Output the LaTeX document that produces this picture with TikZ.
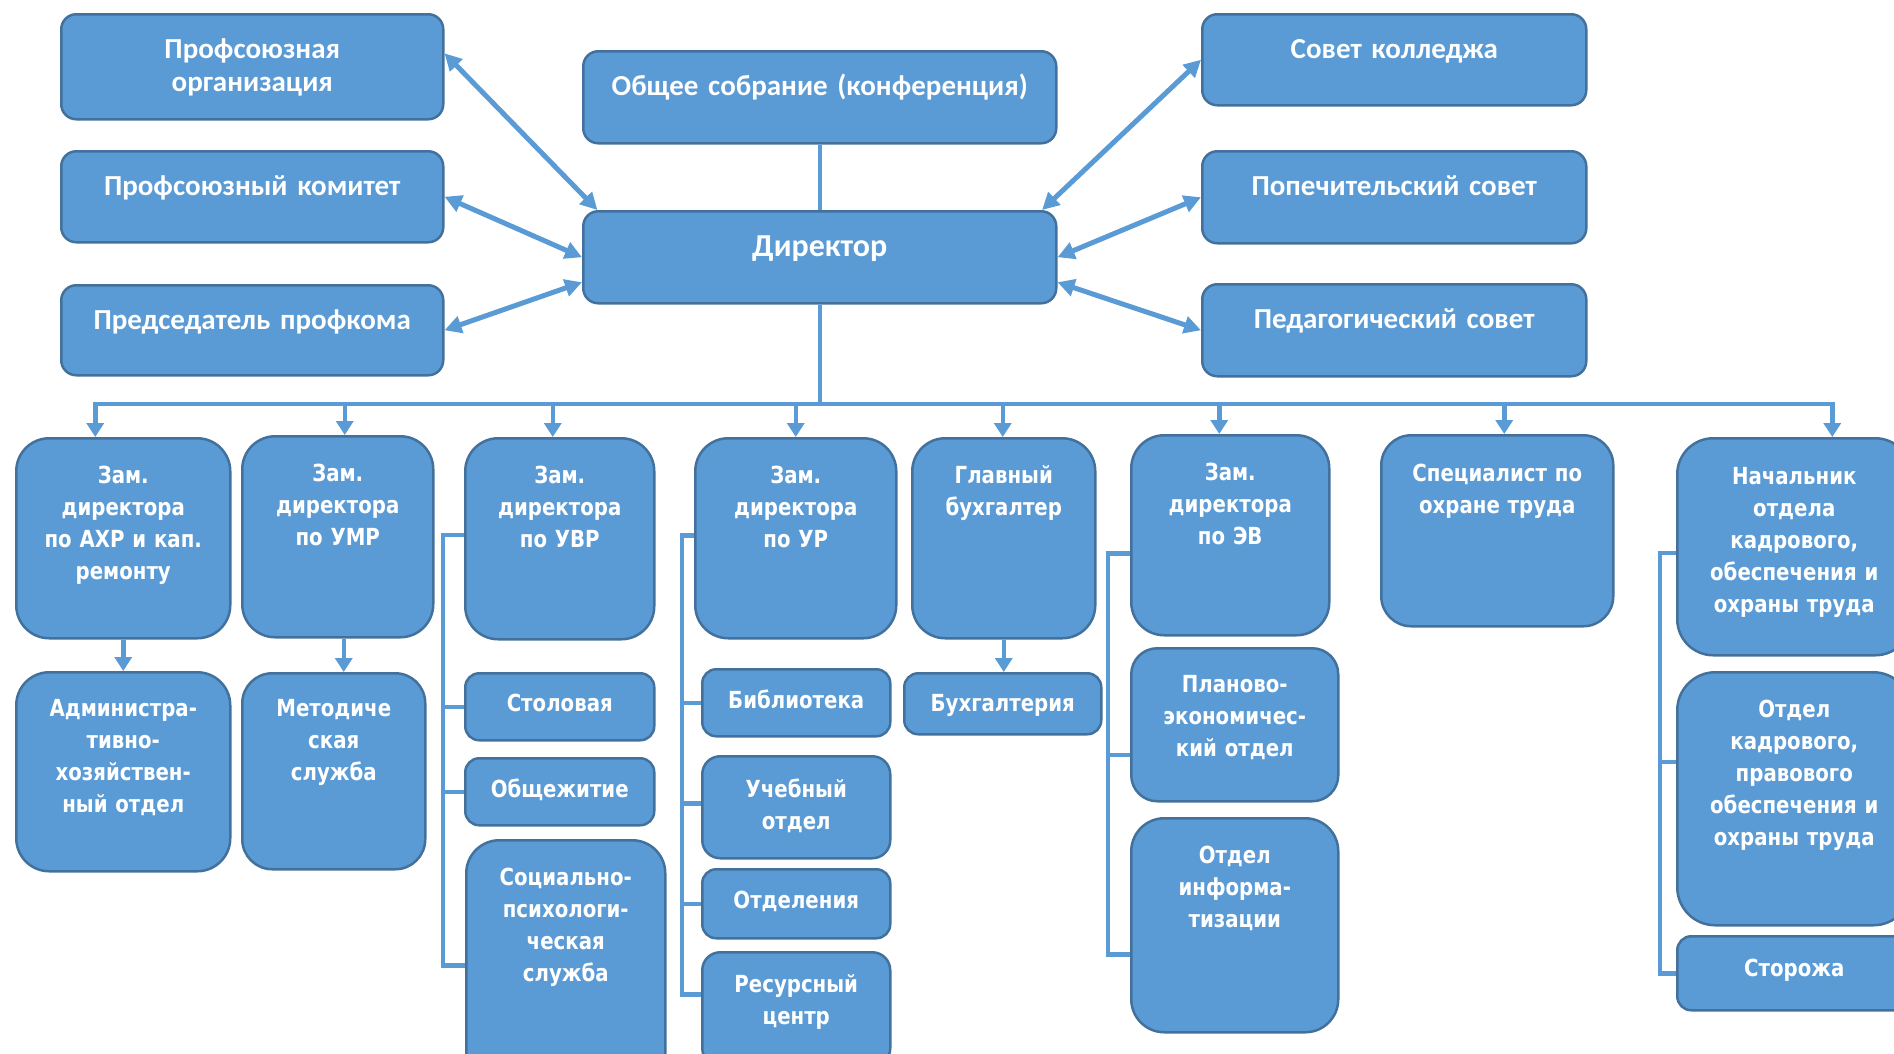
\documentclass[tikz,border=0pt]{standalone}
\usepackage{fontspec}
\usepackage{tikz}
\usetikzlibrary{arrows.meta}
\newfontfamily\calfont{Carlito}
\newfontfamily\tahfont{DejaVu Sans}[FakeStretch=0.84]
\definecolor{fillblue}{HTML}{5B9BD5}
\definecolor{edgeblue}{HTML}{41719C}
\newcommand{\block}[7]{\node[#1, text width=#4pt, text height=#5pt, text depth=#6pt] (#2) at (#3) {#7}}

\begin{document}
\begin{tikzpicture}[x=1pt,y=-1pt,
    box/.style={draw=edgeblue, fill=fillblue, line width=2.5pt, text=white, align=center, inner sep=0pt, anchor=north west},
    upper/.style={box, rounded corners=15pt, font=\calfont\bfseries\fontsize{29}{33.5}\selectfont},
    lower/.style={box, rounded corners=33pt, font=\tahfont\bfseries\fontsize{23.5}{32}\selectfont},
    flat/.style={lower, rounded corners=14pt},
    link/.style={draw=fillblue, line width=4.5pt},
    drop/.style={link, >={Triangle[length=14pt,width=17pt]}, ->},
    pair/.style={draw=fillblue, line width=5pt, >={Triangle[length=17pt,width=17pt]}, <->}]
    \useasboundingbox (0,0) rectangle (1894,1053);
    \clip (0,0) rectangle (1894,1053);

    \block{upper}{porg}{60,13}{382}{44}{61}{Профсоюзная\\организация};
    \block{upper}{pkom}{60,150}{382}{44}{47}{Профсоюзный комитет};
    \block{upper}{pred}{60,284}{382}{44}{46}{Председатель профкома};
    \block{upper}{sobr}{582,50}{473}{44}{48}{Общее собрание (конференция)};
    \block{upper, font=\calfont\bfseries\fontsize{32}{38}\selectfont}{dir}{582,210}{473}{45}{47}{Директор};
    \block{upper}{skol}{1201,13}{384}{44}{47}{Совет колледжа};
    \block{upper}{popech}{1201,150}{384}{44}{48}{Попечительский совет};
    \block{upper}{pedsov}{1201,283}{384}{44}{48}{Педагогический совет};

    \block{lower}{zahr}{15,437}{214}{45}{155}{Зам.\\директора\\по АХР и кап.\\ремонту};
    \block{lower}{zumr}{241,435}{191}{45}{156}{Зам.\\директора\\по УМР};
    \block{lower}{zuvr}{464,437}{189}{45}{156}{Зам.\\директора\\по УВР};
    \block{lower}{zur}{694,437}{201}{45}{155}{Зам.\\директора\\по УР};
    \block{lower}{glbuh}{911,437}{183}{45}{155}{Главный\\бухгалтер};
    \block{lower}{zev}{1130,434}{198}{45}{155}{Зам.\\директора\\по ЭВ};
    \block{lower, rounded corners=30pt}{spec}{1380,434}{232}{46}{145}{Специалист по\\охране труда};
    \block{lower, rounded corners=36pt}{nach}{1676,437}{234}{46}{171}{Начальник\\отдела\\кадрового,\\обеспечения и\\охраны труда};

    \block{lower}{aho}{15,671}{214}{44}{155}{Администра-\\тивно-\\хозяйствен-\\ный отдел};
    \block{lower, rounded corners=30pt}{metod}{241,672}{183}{43}{153}{Методиче\\ская\\служба};
    \block{flat}{stol}{464,672}{189}{38}{29}{Столовая};
    \block{flat}{obsh}{464,757}{189}{39}{28}{Общежитие};
    \block{lower}{sps}{465,839}{199}{45}{205}{Социально-\\психологи-\\ческая\\служба};
    \block{flat}{bibl}{701,668}{188}{39}{28}{Библиотека};
    \block{flat, rounded corners=18pt}{ucheb}{701,755}{188}{41}{61}{Учебный\\отдел};
    \block{flat}{otdel}{701,868}{188}{39}{30}{Отделения};
    \block{flat, rounded corners=18pt}{resurs}{701,951}{188}{40}{74}{Ресурсный\\центр};
    \block{flat}{buhg}{903,672}{197}{38}{23}{Бухгалтерия};
    \block{lower, rounded corners=26pt}{plan}{1130,647}{207}{44}{109}{Планово-\\экономичес-\\кий отдел};
    \block{lower}{inform}{1130,817}{207}{45}{169}{Отдел\\информа-\\тизации};
    \block{lower, rounded corners=38pt}{kadr}{1676,671}{234}{45}{208}{Отдел\\кадрового,\\правового\\обеспечения и\\охраны труда};
    \block{flat}{storozh}{1676,935}{234}{40}{34}{Сторожа};

    \draw[pair] (porg.4) -- (dir.168);
    \draw[pair] (pkom.east) -- (dir.west);
    \draw[pair] (pred.east) -- (dir.186);
    \draw[pair] (skol.west) -- (dir.12);
    \draw[pair] (popech.west) -- (dir.east);
    \draw[pair] (pedsov.west) -- (dir.354);
    \draw[link] (sobr.south) -- (dir.north);

    \coordinate (bus) at (818,404);
    \draw[link] (dir.south) -- (dir.south |- bus);
    \draw[link, line cap=rect] ([xshift=-28pt]zahr.north |- bus) -- ([xshift=38pt]nach.north |- bus);
    \foreach \n/\dx in {zahr/-28,zumr/7,zuvr/-7,zur/0,glbuh/-1,zev/-11,spec/7,nach/38}
        \draw[drop] ([xshift=\dx pt]\n.north |- bus) -- ([xshift=\dx pt]\n.north);

    \draw[drop] (zahr.south) -- (aho.north);
    \draw[drop] ([xshift=6pt]zumr.south) -- ([xshift=6pt]zumr.south |- metod.north);
    \draw[drop] (glbuh.south) -- (glbuh.south |- buhg.north);

    \foreach \kid in {stol,obsh,sps}
        \draw[link] ([yshift=4pt]zuvr.west) -- ++(-21,0) |- (\kid.west);
    \foreach \kid/\sh in {bibl/0,ucheb/4,otdel/0,resurs/15}
        \draw[link] ([yshift=3pt]zur.west) -- ++(-12,0) |- ([yshift=\sh pt]\kid.west);
    \foreach \kid/\sh in {plan/-30,inform/-29}
        \draw[link] ([yshift=-18pt]zev.west) -- ++(-22,0) |- ([yshift=\sh pt]\kid.west);
    \foreach \kid/\sh in {kadr/37,storozh/0}
        \draw[link] ([yshift=-6pt]nach.west) -- ++(-16,0) |- ([yshift=\sh pt]\kid.west);
\end{tikzpicture}
\end{document}
